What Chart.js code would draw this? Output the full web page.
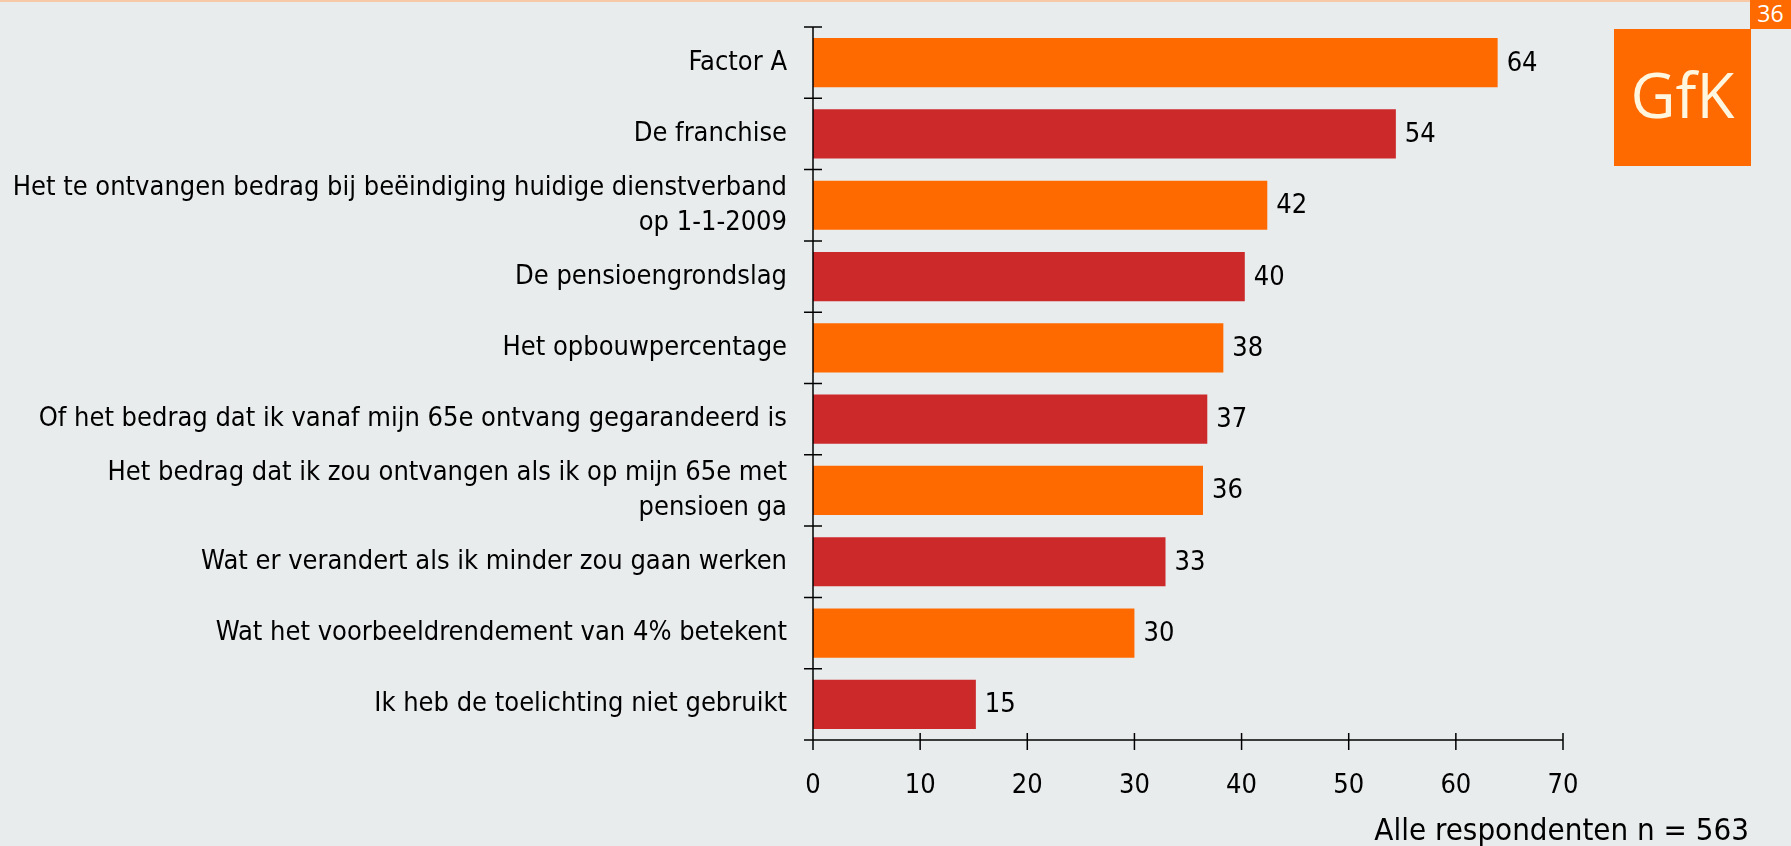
<!DOCTYPE html>
<html>
<head>
<meta charset="utf-8">
<script src="https://cdn.jsdelivr.net/npm/chart.js@4.4.1/dist/chart.umd.min.js"></script>
<style>
  html, body { margin: 0; padding: 0; background: #e9eced; }
  #wrap { position: relative; width: 1791px; height: 846px; overflow: hidden; }
  #topline { position: absolute; left: 0; top: 0; width: 1750px; height: 2px; background: #f8c9a6; }
  #page { position: absolute; left: 1750px; top: 0; width: 41px; height: 29px; background: #ff6a00;
          color: #fff; font: 23px "Open Sans", sans-serif; text-align: center; line-height: 27px; }
  #logo { position: absolute; left: 1614px; top: 29px; width: 137px; height: 137px; background: #ff6a00;
          color: #fff6e0; font: 62px "Open Sans", sans-serif; text-align: center; line-height: 130px; }
  canvas { position: absolute; left: 0; top: 0; }
</style>
</head>
<body>
<div id="wrap">
  <div id="topline"></div>
  <div id="page">36</div>
  <div id="logo">GfK</div>
  <canvas id="factors" width="1791" height="846"></canvas>
</div>
<script>
(function() {
    'use strict';

    const categories = [
        "Factor A",
        "De franchise",
        ["Het te ontvangen bedrag bij beëindiging huidige dienstverband", "op 1-1-2009"],
        "De pensioengrondslag",
        "Het opbouwpercentage",
        "Of het bedrag dat ik vanaf mijn 65e ontvang gegarandeerd is",
        ["Het bedrag dat ik zou ontvangen als ik op mijn 65e met", "pensioen ga"],
        "Wat er verandert als ik minder zou gaan werken",
        "Wat het voorbeeldrendement van 4% betekent",
        "Ik heb de toelichting niet gebruikt"
    ];
    const values = [63.9, 54.4, 42.4, 40.3, 38.3, 36.8, 36.4, 32.9, 30.0, 15.2];
    const valueLabels = ["64", "54", "42", "40", "38", "37", "36", "33", "30", "15"];
    const xTicks = [0, 10, 20, 30, 40, 50, 60, 70];
    const footnote = "Alle respondenten n = 563";

    const ORANGE = "#ff6a00";
    const RED = "#cc292b";
    const FONT = "'DejaVu Sans Condensed', 'DejaVu Sans', sans-serif";

    // axis lines, crossing ticks, value labels and footnote
    const decorations = {
        id: 'decorations',
        afterDraw(chart) {
            const ctx = chart.ctx;
            const x = chart.scales.x;
            const area = chart.chartArea;
            ctx.save();
            ctx.strokeStyle = "#000";
            ctx.lineWidth = 1.5;
            ctx.beginPath();
            ctx.moveTo(area.left, area.top);
            ctx.lineTo(area.left, area.bottom);
            ctx.moveTo(area.left, area.bottom);
            ctx.lineTo(x.getPixelForValue(70), area.bottom);
            // y ticks at category boundaries
            const band = (area.bottom - area.top) / categories.length;
            for (let i = 0; i <= categories.length; i++) {
                const py = area.top + i * band;
                ctx.moveTo(area.left - 9, py);
                ctx.lineTo(area.left + 9, py);
            }
            // x ticks
            xTicks.forEach(function(v) {
                const px = x.getPixelForValue(v);
                ctx.moveTo(px, area.bottom - 7);
                ctx.lineTo(px, area.bottom + 10);
            });
            ctx.stroke();

            ctx.fillStyle = "#000";
            ctx.font = "27px " + FONT;
            ctx.textAlign = "left";
            ctx.textBaseline = "middle";
            chart.getDatasetMeta(0).data.forEach(function(bar, i) {
                ctx.fillText(valueLabels[i], bar.x + 9, bar.y + 1);
            });

            ctx.font = "31px " + FONT;
            ctx.textAlign = "right";
            ctx.textBaseline = "alphabetic";
            ctx.fillText(footnote, 1749, 840);
            ctx.restore();
        }
    };

    new Chart(document.getElementById('factors'), {
        type: 'bar',
        data: {
            labels: categories,
            datasets: [{
                data: values,
                backgroundColor: values.map(function(v, i) { return i % 2 === 0 ? ORANGE : RED; }),
                borderWidth: 0,
                barPercentage: 0.69,
                categoryPercentage: 1.0
            }]
        },
        options: {
            indexAxis: 'y',
            responsive: false,
            animation: false,
            layout: {
                padding: { left: 0, right: 228, top: 27, bottom: 0 }
            },
            plugins: {
                legend: { display: false },
                tooltip: { enabled: false }
            },
            scales: {
                x: {
                    min: 0,
                    max: 70,
                    grid: { display: false },
                    border: { display: false },
                    afterBuildTicks: function(scale) {
                        scale.ticks = xTicks.map(function(v) { return { value: v }; });
                    },
                    afterFit: function(scale) {
                        scale.height = 106;
                        scale.paddingLeft = 0;
                        scale.paddingRight = 0;
                    },
                    ticks: {
                        color: "#000",
                        padding: 22,
                        maxRotation: 0,
                        font: { family: FONT, size: 27 }
                    }
                },
                y: {
                    grid: { display: false },
                    border: { display: false },
                    afterFit: function(scale) {
                        scale.width = 813;
                        scale.paddingTop = 0;
                        scale.paddingBottom = 0;
                    },
                    ticks: {
                        color: "#000",
                        padding: 18,
                        autoSkip: false,
                        font: { family: FONT, size: 27, lineHeight: 1.3 }
                    }
                }
            }
        },
        plugins: [decorations]
    });
})();
</script>
</body>
</html>
